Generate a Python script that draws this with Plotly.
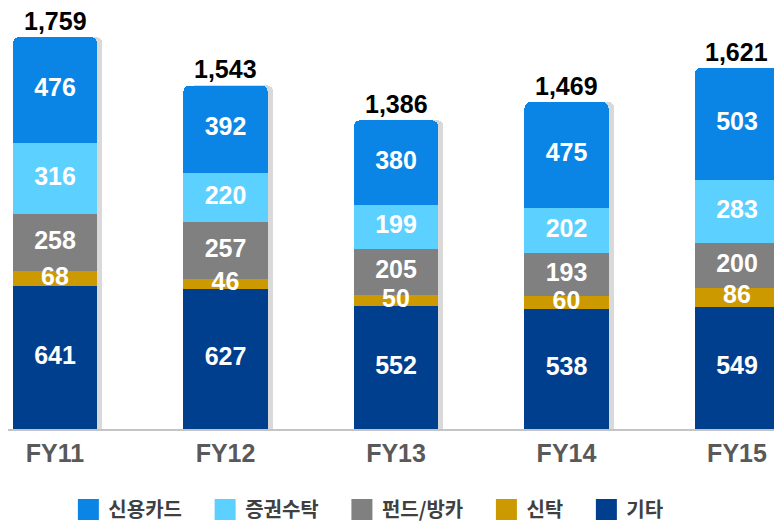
import plotly.graph_objects as go
import numpy as np

categories = ["FY11", "FY12", "FY13", "FY14", "FY15"]
series_names = ["기타", "신탁", "펀드/방카", "증권수탁", "신용카드"]  # bottom to top
gita = [641, 627, 552, 538, 549]
sintak = [68, 46, 50, 60, 86]
fund = [258, 257, 205, 193, 200]
jeunggwon = [316, 220, 199, 202, 283]
card = [476, 392, 380, 475, 503]
totals = [1759, 1543, 1386, 1469, 1621]
total_labels = ["1,759", "1,543", "1,386", "1,469", "1,621"]

series_values = [gita, sintak, fund, jeunggwon, card]
colors = ["#003F8E", "#CC9900", "#808080", "#5CD0FF", "#0A85E5"]

FONT = "Arial, Liberation Sans, Noto Sans CJK KR, sans-serif"
BAR_W = 0.493
PAD = "\u00a0" * 4  # extra spacing after legend labels

fig = go.Figure()

# soft shadow behind bars (base axes)
fig.add_trace(go.Bar(
    x=categories, y=totals, width=BAR_W, offset=-BAR_W / 2 + 0.032,
    marker=dict(color="rgba(120,120,120,0.28)", line=dict(width=0), cornerradius=6),
    showlegend=False, hoverinfo="skip", xaxis="x", yaxis="y",
))

for name, vals, col in zip(series_names, series_values, colors):
    fig.add_trace(go.Bar(
        x=categories, y=vals, name=name, width=BAR_W,
        marker=dict(color=col, line=dict(width=0)),
        xaxis="x2", yaxis="y2", textposition="none", showlegend=False,
    ))

# legend entries (square swatches)
for name, col in zip(series_names, colors):
    fig.add_trace(go.Scatter(
        x=[None], y=[None], mode="markers", name=name + PAD,
        marker=dict(symbol="square", size=16, color=col, line=dict(color=col, width=5)),
        xaxis="x2", yaxis="y2",
    ))

# segment labels at midpoints
cum = np.zeros(len(categories))
for vals in series_values:
    v = np.array(vals, dtype=float)
    mids = cum + v / 2
    fig.add_trace(go.Scatter(
        x=categories, y=mids, mode="text", text=[str(int(a)) for a in v],
        textfont=dict(color="white", size=25, family=FONT, weight="bold"),
        textposition="middle center", showlegend=False, hoverinfo="skip",
        xaxis="x2", yaxis="y2",
    ))
    cum += v

for c, t, lab in zip(categories, totals, total_labels):
    fig.add_annotation(
        x=c, y=t, xref="x2", yref="y2", text=lab, showarrow=False,
        yanchor="bottom", yshift=0,
        font=dict(color="black", size=25, family=FONT, weight="bold"),
    )

xr = [-0.2757, 4.264]
yr = [0, 1890]
fig.update_layout(
    width=774, height=514,
    margin=dict(l=0, r=0, t=0, b=93, autoexpand=False),
    paper_bgcolor="white", plot_bgcolor="white",
    barmode="stack", barcornerradius=6,
    font=dict(family=FONT),
    xaxis=dict(range=xr, showgrid=False, zeroline=False,
               showline=True, linecolor="#C4C4C4", linewidth=2,
               ticks="", ticklabelstandoff=1,
               tickfont=dict(size=25, color="#595959", family=FONT, weight="bold")),
    yaxis=dict(range=yr, visible=False, showgrid=False, zeroline=False),
    xaxis2=dict(range=xr, overlaying="x", visible=False, showgrid=False, zeroline=False),
    yaxis2=dict(range=yr, overlaying="y", visible=False, showgrid=False, zeroline=False),
    legend=dict(orientation="h", x=0.078, xanchor="left", y=-0.191, yanchor="middle",
                traceorder="reversed", itemclick=False,
                font=dict(size=20, color="#404040", family="Noto Sans CJK KR", weight="bold")),
    showlegend=True,
)

fig.write_html("out.html")
